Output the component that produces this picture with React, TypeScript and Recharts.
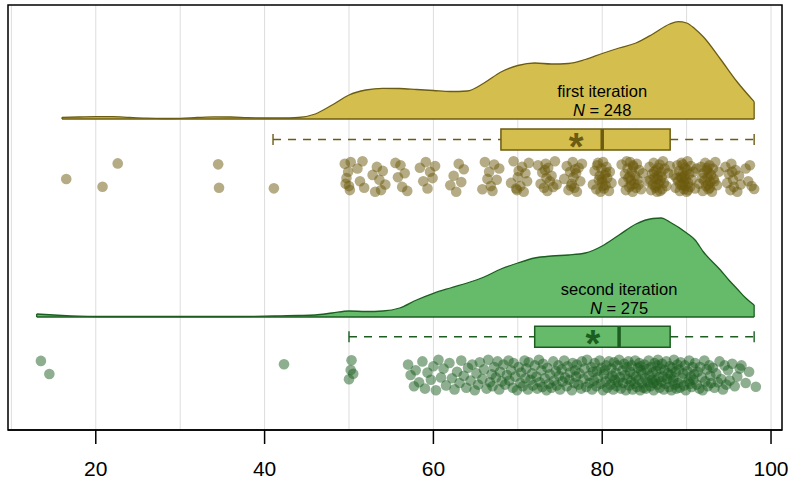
import React from "react";
import {
  ComposedChart,
  Area,
  Scatter,
  XAxis,
  YAxis,
  CartesianGrid,
  ReferenceArea,
  ReferenceLine,
} from "recharts";

// ---- data ----
const groupNames = ["first iteration", "second iteration"];
const groupCounts = [248, 275];

const xTicks = [20, 40, 60, 80, 100];
const gridTicks = [10, 20, 30, 40, 50, 60, 70, 80, 90, 100];

// kernel density (relative height) per group
const firstDensityX = [16, 18, 20, 22, 24, 26, 28, 30, 32, 34, 36, 38, 40, 42, 44, 46, 48, 50, 52, 54, 56, 58, 60, 62, 64, 66, 68, 70, 72, 74, 76, 78, 80, 82, 84, 86, 88, 89, 90, 91, 92, 94, 96, 98];
const firstDensity = [1.7, 2, 2.3, 2.3, 1.5, 0.8, 0.5, 0.7, 1.5, 2.1, 2, 1.3, 1, 1, 1.5, 5, 14, 24, 29, 30.7, 30.5, 29.5, 28.5, 27.5, 28, 36, 47, 53.5, 56, 55, 55.5, 59.5, 65.5, 71, 76, 85, 95, 97.3, 96, 90, 82, 60, 37, 17.3];

const secondDensityX = [13, 14, 16, 18, 20, 24, 28, 32, 36, 40, 42, 44, 46, 48, 50, 52, 54, 56, 58, 60, 62, 64, 66, 68, 70, 72, 74, 76, 78, 80, 82, 84, 86, 87, 88, 90, 91, 92, 94, 95, 96, 97, 98];
const secondDensity = [3, 2.5, 1.5, 0.8, 0.5, 0.5, 0.5, 0.5, 0.5, 0.8, 1.2, 1.5, 2, 4, 6, 5.5, 6, 9, 17, 23.7, 29, 34, 40, 48, 54, 59, 61, 62, 64, 71, 82, 93, 98.5, 99, 95, 84, 77, 65, 47, 37, 28, 19, 12];

// [whisker low, q1, median, q3, whisker high, mean]
const firstBoxStats = [41, 68, 80, 88.05, 98, 76.9];
const secondBoxStats = [50, 72, 82, 88.05, 98, 78.9];

// [score, jitter -1..1]
const firstPoints: [number, number][] = [
  [16.5, 0.16], [22.6, -0.82], [20.8, 0.64], [34.5, -0.76], [34.6, 0.7], [41.1, 0.74],
  [49.5, -0.8], [49.7, 0.1], [49.9, -0.3], [50.0, 0.6], [49.6, 0.45], [50.2, -0.9], [50.1, 0.85],
  [51.0, -0.5], [51.3, 0.3], [51.6, -0.95], [51.8, 0.7],
  [52.8, -0.1], [53.1, 0.95], [53.3, -0.6], [53.6, 0.2], [53.8, 0.85], [54.0, -0.35], [54.3, 0.5],
  [55.5, -0.85], [55.8, 0.05], [56.1, -0.7], [56.3, 0.65], [56.6, -0.2], [56.9, 0.9],
  [58.4, -0.55], [58.8, 0.3], [59.1, -0.9], [59.3, 0.75], [59.6, -0.3], [59.9, 0.1], [60.2, -0.65],
  [62.0, 0.55], [62.4, -0.05], [62.7, 0.95], [63.0, -0.8], [63.3, 0.35], [63.6, -0.45],
  [65.8, 0.8], [66.1, -0.9], [66.4, 0.15], [66.6, -0.3], [66.8, 0.6], [67.0, 0.9], [67.2, -0.75], [67.5, 0.2], [67.8, -0.5],
  [69.2, 0.4], [69.5, -0.95], [69.8, 0.75], [70.0, 0.05], [70.1, -0.35], [70.3, 0.6], [70.5, -0.6], [70.7, 0.95], [70.9, -0.2], [71.1, 0.3], [71.3, -0.85], [69.9, 0.85],
  [72.4, -0.7], [72.7, 0.45], [72.9, -0.25], [73.1, 0.7], [73.3, -0.8], [73.4, 0.1], [73.5, 0.9], [73.6, -0.55], [73.8, 0.3], [74.0, -0.05], [74.2, 0.65], [74.4, -0.95], [74.6, 0.5], [73.2, -0.4],
  [75.5, 0.15], [75.8, -0.65], [76.0, 0.85], [76.2, -0.3], [76.4, 0.45], [76.5, -0.9], [76.6, 0.05], [76.7, 0.7], [76.9, -0.2], [77.0, 0.95], [77.2, -0.55], [77.4, 0.3], [77.6, -0.8], [76.3, 0.6], [76.8, -0.45],
  [78.9, 0.5], [79.1, -0.35], [79.3, 0.8], [79.4, -0.7], [79.6, 0.2], [79.7, -0.05], [79.8, 0.95], [79.9, -0.5], [80.0, 0.35], [80.1, -0.9], [80.2, 0.75],
  [80.3, -0.1], [80.4, 0.55], [80.5, -0.6], [80.6, 0.1], [80.8, 0.9], [80.9, -0.3], [81.1, 0.4], [79.5, -0.85], [80.05, 0.6], [80.45, -0.25], [79.95, 0.15],
  [82.3, -0.75], [82.5, 0.35], [82.7, -0.15], [82.8, 0.85], [83.0, -0.5], [83.1, 0.1], [83.2, 0.65], [83.3, -0.9], [83.4, 0.25], [83.5, -0.3], [83.6, 0.95], [83.7, -0.6], [83.8, 0.45],
  [83.9, -0.05], [84.0, 0.7], [84.1, -0.8], [84.2, 0.2], [84.4, -0.4], [84.6, 0.8], [84.8, -0.2], [83.45, 0.55], [83.65, -0.7], [83.25, 0.0], [84.3, 0.5], [82.9, -0.95],
  [85.4, 0.3], [85.6, -0.6], [85.8, 0.85], [85.9, -0.15], [86.0, 0.5], [86.1, -0.85], [86.2, 0.1], [86.3, 0.7], [86.4, -0.4], [86.5, 0.95], [86.6, -0.05], [86.7, 0.45], [86.8, -0.75], [86.9, 0.25],
  [87.0, -0.3], [87.1, 0.8], [87.2, -0.95], [87.3, 0.4], [87.4, -0.5], [87.6, 0.6], [87.8, -0.2], [86.55, 0.15], [86.65, -0.55], [86.35, 0.6], [86.85, 0.9], [86.15, -0.3], [87.05, 0.05], [85.7, 0.2], [88.0, -0.65],
  [88.5, -0.1], [88.7, 0.7], [88.9, -0.7], [89.0, 0.3], [89.1, -0.35], [89.2, 0.9], [89.3, 0.05], [89.4, -0.85], [89.5, 0.55], [89.6, -0.25], [89.7, 0.8], [89.8, -0.55], [89.9, 0.15], [90.0, 0.95], [90.1, -0.95], [90.2, 0.4],
  [90.3, -0.15], [90.4, 0.65], [90.5, -0.65], [90.6, 0.2], [90.8, -0.3], [91.0, 0.75], [89.65, 0.35], [89.75, -0.05], [89.55, -0.75], [89.85, 0.6], [89.45, 0.1], [90.05, -0.4], [89.25, 0.5], [90.15, 0.85], [88.8, 0.1], [91.2, -0.5],
  [91.5, 0.45], [91.7, -0.6], [91.9, 0.9], [92.0, -0.2], [92.1, 0.25], [92.2, -0.85], [92.3, 0.6], [92.4, -0.4], [92.5, 0.05], [92.6, 0.8], [92.7, -0.7], [92.8, 0.35], [92.9, -0.1],
  [93.0, 0.95], [93.1, -0.5], [93.2, 0.15], [93.4, -0.9], [93.6, 0.55], [93.8, -0.3], [92.55, 0.5], [92.65, -0.25], [92.45, -0.55], [92.75, 0.7], [91.8, 0.1], [93.3, 0.3],
  [94.6, -0.6], [94.8, 0.4], [95.0, -0.15], [95.2, 0.85], [95.3, -0.8], [95.5, 0.2], [95.6, 0.65], [95.8, -0.4], [96.0, 0.95], [96.2, -0.05], [96.4, 0.5], [95.4, -0.3],
  [97.0, -0.5], [97.3, 0.3], [97.5, -0.7], [97.7, 0.6], [98.0, 0.78],
];

const secondPoints: [number, number][] = [
  [13.5, -0.88], [14.5, -0.06], [42.3, -0.67], [50.3, -0.92], [50.2, -0.31], [50.5, -0.08], [50.0, 0.27], [98.2, 0.73],
  [57.0, -0.65], [57.3, 0.0], [57.7, 0.7], [57.9, -0.3],
  [58.3, 0.45], [58.7, -0.85], [59.0, 0.85], [59.3, -0.15],
  [59.7, 0.3], [60.0, -0.55], [60.3, 0.95], [60.6, -0.95], [60.9, 0.15],
  [61.2, -0.4], [61.5, 0.65], [61.9, -0.75], [62.2, 0.2], [62.5, 0.9], [62.8, -0.2],
  [63.1, 0.5], [63.3, -0.9], [63.6, 0.05], [63.9, 0.8], [64.1, -0.45], [64.4, 0.35], [64.6, -0.65], [64.9, 0.95],
  [65.1, -0.1], [65.3, 0.6], [65.5, -0.8], [65.8, 0.25], [66.0, -0.35], [66.3, 0.85], [66.5, -0.95], [66.7, 0.45], [66.9, -0.05],
  [67.0, 0.7], [67.2, -0.5], [67.4, 0.15], [67.6, -0.85], [67.8, 0.9], [67.9, -0.2], [68.1, 0.4], [68.3, -0.65], [68.5, 0.6], [68.7, 0.0], [68.9, -0.9],
  [69.0, 0.35], [69.2, -0.3], [69.4, 0.8], [69.5, -0.75], [69.7, 0.1], [69.9, 0.95], [70.1, -0.5], [70.3, 0.5], [70.4, -0.15], [70.6, 0.7], [70.8, -0.9], [70.9, 0.2],
  [71.0, -0.4], [71.2, 0.9], [71.3, -0.8], [71.5, 0.3], [71.7, -0.1], [71.8, 0.65], [72.0, -0.6], [72.2, 0.1], [72.3, 0.85], [72.5, -0.95], [72.6, 0.45], [72.8, -0.3], [72.9, 0.75],
  [73.0, -0.7], [73.2, 0.2], [73.4, 0.95], [73.5, -0.45], [73.7, 0.55], [73.8, -0.05], [74.0, 0.8], [74.2, -0.85], [74.3, 0.35], [74.5, -0.25], [74.6, 0.65], [74.8, -0.6], [74.9, 0.05],
  [75.0, 0.9], [75.2, -0.35], [75.3, 0.4], [75.5, -0.9], [75.6, 0.15], [75.8, 0.7], [75.9, -0.55], [76.1, 0.3], [76.2, -0.15], [76.4, 0.95], [76.5, -0.75], [76.7, 0.5], [76.8, -0.3], [76.9, 0.1],
  [77.0, -0.65], [77.2, 0.6], [77.3, -0.1], [77.5, 0.85], [77.6, -0.85], [77.8, 0.25], [77.9, -0.4], [78.1, 0.75], [78.2, -0.95], [78.4, 0.05], [78.5, 0.5], [78.7, -0.5], [78.8, 0.9], [78.9, -0.2],
  [79.0, 0.35], [79.1, -0.75], [79.3, 0.7], [79.4, -0.25], [79.5, 0.15], [79.7, -0.9], [79.8, 0.55], [79.9, -0.45], [80.1, 0.95], [80.2, -0.05], [80.4, 0.4], [80.5, -0.6], [80.6, 0.8], [80.8, -0.85], [80.9, 0.2], [80.3, -0.3],
  [81.0, 0.6], [81.1, -0.4], [81.2, 0.05], [81.3, 0.9], [81.4, -0.8], [81.5, 0.3], [81.6, -0.15], [81.7, 0.7], [81.8, -0.6], [81.9, 0.45], [82.0, -0.95], [82.1, 0.15], [82.2, 0.85], [82.4, -0.3], [82.5, 0.5], [82.6, -0.7], [82.7, 0.0], [82.8, 0.95], [82.9, -0.5],
  [83.0, 0.25], [83.1, -0.85], [83.2, 0.65], [83.3, -0.2], [83.4, 0.4], [83.5, -0.6], [83.6, 0.9], [83.7, -0.05], [83.8, 0.55], [83.9, -0.9], [84.0, 0.1], [84.1, 0.75], [84.2, -0.45], [84.3, 0.3], [84.4, -0.75], [84.5, 0.95], [84.6, -0.3], [84.7, 0.5], [84.8, -0.1], [84.9, 0.8], [84.55, -0.55],
  [85.0, -0.65], [85.1, 0.2], [85.2, 0.85], [85.3, -0.35], [85.4, 0.45], [85.5, -0.9], [85.6, 0.05], [85.7, 0.7], [85.8, -0.5], [85.9, 0.3], [86.0, -0.15], [86.1, 0.95], [86.2, -0.75], [86.3, 0.35], [86.4, -0.25], [86.5, 0.6], [86.6, -0.95], [86.7, 0.15], [86.8, 0.8], [86.9, -0.4], [86.05, 0.5], [86.55, -0.6],
  [87.0, 0.4], [87.1, -0.7], [87.2, 0.1], [87.3, 0.9], [87.4, -0.3], [87.5, 0.55], [87.6, -0.85], [87.7, 0.25], [87.8, -0.1], [87.9, 0.75], [88.0, -0.55], [88.1, 0.0], [88.2, 0.95], [88.3, -0.45], [88.4, 0.35], [88.5, -0.95], [88.6, 0.6], [88.7, -0.2], [88.8, 0.85], [88.9, -0.65], [88.45, 0.15],
  [89.0, 0.5], [89.1, -0.35], [89.2, 0.8], [89.3, -0.8], [89.5, 0.2], [89.6, -0.1], [89.7, 0.65], [89.8, -0.6], [89.9, 0.95], [90.1, -0.25], [90.2, 0.4], [90.3, -0.9], [90.5, 0.1], [90.6, 0.75], [90.7, -0.5], [90.8, 0.3], [90.9, -0.05], [90.4, 0.55],
  [91.0, -0.75], [91.2, 0.6], [91.3, -0.2], [91.5, 0.85], [91.6, -0.5], [91.8, 0.15], [91.9, 0.95], [92.1, -0.9], [92.2, 0.4], [92.4, -0.35], [92.5, 0.7], [92.7, -0.6], [92.8, 0.05], [92.9, 0.5],
  [93.1, -0.45], [93.3, 0.8], [93.5, -0.1], [93.7, 0.45], [93.9, -0.85], [94.1, 0.25], [94.3, 0.9], [94.5, -0.6], [94.7, 0.6], [94.9, -0.3],
  [95.1, 0.35], [95.4, -0.7], [95.7, 0.7], [96.0, 0.1], [96.3, -0.4], [96.5, -0.6],
  [97.0, 0.5], [97.4, -0.2],
];

// ---- layout (y is a pixel-like band space, 0 at the x axis) ----
const X_DOMAIN: [number, number] = [9.6, 101.3];
const Y_DOMAIN: [number, number] = [0, 425];
const FONT = "'Liberation Sans', Arial, Helvetica, sans-serif";

const groups = [
  {
    name: groupNames[0],
    n: groupCounts[0],
    dx: firstDensityX,
    dy: firstDensity,
    box: firstBoxStats,
    points: firstPoints,
    base: 311,
    boxMid: 290.5,
    dotMid: 253.5,
    fill: "#d4bf4e",
    stroke: "#6b5c12",
    dot: "#6b5a0c",
  },
  {
    name: groupNames[1],
    n: groupCounts[1],
    dx: secondDensityX,
    dy: secondDensity,
    box: secondBoxStats,
    points: secondPoints,
    base: 113,
    boxMid: 93.3,
    dotMid: 55,
    fill: "#66bb6a",
    stroke: "#1b5e20",
    dot: "#1b5e20",
  },
];

const BOX_HALF = 10.5;
const CAP_HALF = 5.5;
const JITTER = 16;

export default function App() {
  return (
    <div style={{ position: "absolute", left: 0, top: 0, width: 791, height: 481, background: "#fff" }}>
      <ComposedChart width={791} height={481} margin={{ top: 5, right: 9, left: 8, bottom: 0 }}>
        <XAxis
          xAxisId="grid"
          type="number"
          dataKey="x"
          domain={X_DOMAIN}
          ticks={gridTicks}
          allowDataOverflow
          hide
        />
        <CartesianGrid xAxisId="grid" horizontal={false} stroke="#dddddd" strokeWidth={1} />
        <XAxis
          type="number"
          dataKey="x"
          domain={X_DOMAIN}
          ticks={xTicks}
          allowDataOverflow
          height={51}
          tickSize={14}
          tickMargin={17}
          axisLine={{ stroke: "#000", strokeWidth: 1.5 }}
          tickLine={{ stroke: "#000", strokeWidth: 1.5 }}
          tick={{ fontSize: 21, fill: "#000", fontFamily: FONT }}
        />
        <YAxis type="number" dataKey="y" domain={Y_DOMAIN} allowDataOverflow hide />

        {groups.map((g) => (
          <Area
            key={"area-" + g.name}
            data={g.dx.map((x, i) => ({ x, band: [g.base, g.base + g.dy[i]] }))}
            dataKey="band"
            type="monotone"
            fill={g.fill}
            fillOpacity={1}
            stroke={g.stroke}
            strokeWidth={1.3}
            isAnimationActive={false}
            activeDot={false}
            dot={false}
          />
        ))}

        {groups.map((g) => (
          <ReferenceLine
            key={"edgeR-" + g.name}
            segment={[
              { x: g.dx[g.dx.length - 1], y: g.base },
              { x: g.dx[g.dx.length - 1], y: g.base + g.dy[g.dy.length - 1] },
            ]}
            stroke={g.stroke}
            strokeWidth={1.3}
          />
        ))}
        {groups.map((g) => (
          <ReferenceLine
            key={"edgeL-" + g.name}
            segment={[
              { x: g.dx[0], y: g.base },
              { x: g.dx[0], y: g.base + g.dy[0] },
            ]}
            stroke={g.stroke}
            strokeWidth={1.3}
          />
        ))}

        {groups.map((g) => (
          <ReferenceArea
            key={"box-" + g.name}
            x1={g.box[1]}
            x2={g.box[3]}
            y1={g.boxMid - BOX_HALF}
            y2={g.boxMid + BOX_HALF}
            fill={g.fill}
            fillOpacity={1}
            stroke={g.stroke}
            strokeWidth={1.5}
          />
        ))}
        {groups.map((g) => (
          <ReferenceLine
            key={"wl-" + g.name}
            segment={[{ x: g.box[0], y: g.boxMid }, { x: g.box[1], y: g.boxMid }]}
            stroke={g.stroke}
            strokeWidth={1.4}
            strokeDasharray="8 7"
          />
        ))}
        {groups.map((g) => (
          <ReferenceLine
            key={"wr-" + g.name}
            segment={[{ x: g.box[3], y: g.boxMid }, { x: g.box[4], y: g.boxMid }]}
            stroke={g.stroke}
            strokeWidth={1.4}
            strokeDasharray="8 7"
          />
        ))}
        {groups.map((g) => (
          <ReferenceLine
            key={"capL-" + g.name}
            segment={[{ x: g.box[0], y: g.boxMid - CAP_HALF }, { x: g.box[0], y: g.boxMid + CAP_HALF }]}
            stroke={g.stroke}
            strokeWidth={1.4}
          />
        ))}
        {groups.map((g) => (
          <ReferenceLine
            key={"capR-" + g.name}
            segment={[{ x: g.box[4], y: g.boxMid - CAP_HALF }, { x: g.box[4], y: g.boxMid + CAP_HALF }]}
            stroke={g.stroke}
            strokeWidth={1.4}
          />
        ))}
        {groups.map((g) => (
          <ReferenceLine
            key={"med-" + g.name}
            segment={[{ x: g.box[2], y: g.boxMid - BOX_HALF }, { x: g.box[2], y: g.boxMid + BOX_HALF }]}
            stroke={g.stroke}
            strokeWidth={3.5}
          />
        ))}

        {groups.map((g) => (
          <Scatter
            key={"pts-" + g.name}
            data={g.points.map(([x, j]) => ({ x, y: g.dotMid - j * JITTER }))}
            dataKey="y"
            isAnimationActive={false}
            shape={(p: any) => (
              <circle cx={p.cx} cy={p.cy} r={5.3} fill={g.dot} fillOpacity={0.5} />
            )}
          />
        ))}

        {groups.map((g) => (
          <Scatter
            key={"mean-" + g.name}
            data={[{ x: g.box[5], y: g.boxMid }]}
            dataKey="y"
            isAnimationActive={false}
            shape={(p: any) => (
              <text
                x={p.cx}
                y={p.cy + 20}
                textAnchor="middle"
                fontSize={38}
                fontWeight="bold"
                fontFamily={FONT}
                fill={g.stroke}
              >
                *
              </text>
            )}
          />
        ))}

        {groups.map((g) => (
          <Scatter
            key={"lab-" + g.name}
            data={[{ x: g.box[2], y: g.base }]}
            dataKey="y"
            isAnimationActive={false}
            shape={(p: any) => (
              <g fontFamily={FONT} fontSize={16.5} fill="#000" textAnchor="middle">
                <text x={p.cx} y={p.cy - 22.5}>{g.name}</text>
                <text x={p.cx} y={p.cy - 3.5}>
                  <tspan fontStyle="italic">N</tspan> = {g.n}
                </text>
              </g>
            )}
          />
        ))}

        <ReferenceArea
          x1={X_DOMAIN[0]}
          x2={X_DOMAIN[1]}
          y1={Y_DOMAIN[0]}
          y2={Y_DOMAIN[1]}
          fill="none"
          stroke="#000"
          strokeWidth={1.5}
          ifOverflow="visible"
        />
      </ComposedChart>
    </div>
  );
}
